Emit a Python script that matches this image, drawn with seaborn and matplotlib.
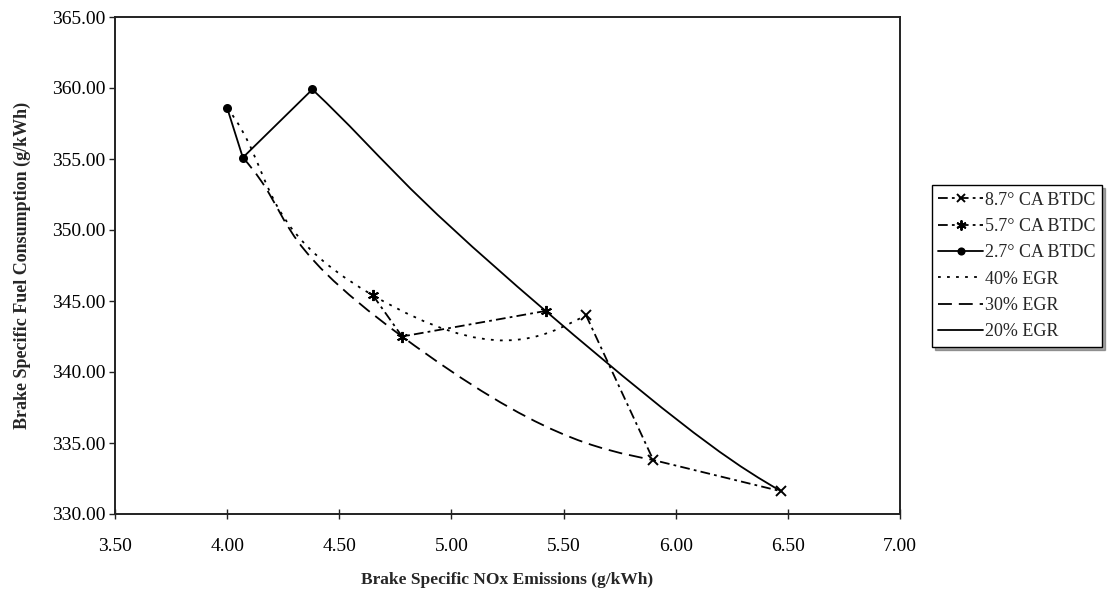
import numpy as np
import pandas as pd
import seaborn as sns
import matplotlib
matplotlib.use("Agg")
import matplotlib.pyplot as plt
from matplotlib.path import Path
from matplotlib.patches import PathPatch
from matplotlib.lines import Line2D
from matplotlib.ticker import FormatStrFormatter, MultipleLocator

# ---- data ----
# injection timing series (points at 40%, 30%, 20% EGR)
t87_x = [5.60, 5.90, 6.47]
t87_y = [344.0, 333.8, 331.6]
t57_x = [4.65, 4.78, 5.42]
t57_y = [345.4, 342.5, 344.3]
t27_x = [4.00, 4.07, 4.38]
t27_y = [358.6, 355.1, 359.9]
# EGR series (points at 2.7, 5.7, 8.7 deg CA BTDC)
egr40_x = [4.00, 4.65, 5.60]
egr40_y = [358.6, 345.4, 344.0]
egr30_x = [4.07, 4.78, 5.90]
egr30_y = [355.1, 342.5, 333.8]
egr20_x = [4.38, 5.42, 6.47]
egr20_y = [359.9, 344.3, 331.6]

timing_labels = ["8.7° CA BTDC", "5.7° CA BTDC", "2.7° CA BTDC"]
egr_labels = ["40% EGR", "30% EGR", "20% EGR"]

sns.set_theme(style="white")
plt.rcParams["font.family"] = ["Liberation Serif", "DejaVu Serif"]
plt.rcParams["lines.scale_dashes"] = False

fig = plt.figure(figsize=(11.11, 5.97), dpi=100)
ax = fig.add_axes([115/1111, 1-514/597, (900-115)/1111, (514-17)/597])

LW = 1.3
dashdot = (0, (7, 3, 2, 3))
dotted = (0, (2.0, 4.5))
dashed = (0, (10, 5))

# timing series: straight segments with markers
tdf = pd.DataFrame({
    "x": t87_x + t57_x + t27_x,
    "y": t87_y + t57_y + t27_y,
    "s": [timing_labels[0]]*3 + [timing_labels[1]]*3 + [timing_labels[2]]*3,
})
styles = {
    timing_labels[0]: dict(ls=dashdot, marker="x", ms=7, mew=1.4, mfc="none"),
    timing_labels[1]: dict(ls=dashdot, marker=(6, 2, 0), ms=8, mew=1.4, mfc="none"),
    timing_labels[2]: dict(ls="-", marker="o", ms=6.5, mew=0, mfc="black"),
}
handles = []
for lab in timing_labels:
    st = styles[lab]
    sub = tdf[tdf["s"] == lab]
    sns.lineplot(data=sub, x="x", y="y", sort=False, ax=ax, color="black",
                 lw=LW, linestyle=st["ls"], marker=st["marker"], markersize=st["ms"],
                 markeredgewidth=st["mew"], markerfacecolor=st["mfc"],
                 markeredgecolor="black", legend=False, zorder=3)
    handles.append(Line2D([], [], color="black", lw=LW, linestyle=st["ls"],
                          marker=st["marker"], markersize=st["ms"] * 0.9,
                          markeredgewidth=st["mew"], markerfacecolor=st["mfc"],
                          markeredgecolor="black"))

# EGR series: smoothed curves (cubic Bezier through the data points)
def smooth_path(xs, ys, s=1/3):
    P = np.column_stack([xs, ys]).astype(float)
    n = len(P)
    tang = [None]*n
    for i in range(1, n-1):
        tang[i] = P[i+1] - P[i-1]
    verts = [P[0]]
    codes = [Path.MOVETO]
    for i in range(n-1):
        if i == 0:
            c1 = P[0] + (P[1] - P[0]) / 3
        else:
            c1 = P[i] + s * tang[i]
        if i + 1 == n - 1:
            c2 = P[i+1] + 0.5 * (c1 - P[i+1]) if i > 0 else P[i+1] - (P[i+1]-P[i]) / 3
        else:
            c2 = P[i+1] - s * tang[i+1]
        verts += [c1, c2, P[i+1]]
        codes += [Path.CURVE4]*3
    return Path(np.array(verts), codes)

for xs, ys, ls, lab in [(egr40_x, egr40_y, dotted, egr_labels[0]),
                        (egr30_x, egr30_y, dashed, egr_labels[1]),
                        (egr20_x, egr20_y, "-", egr_labels[2])]:
    patch = PathPatch(smooth_path(xs, ys), facecolor="none", edgecolor="black",
                      lw=LW, linestyle=ls, zorder=2)
    ax.add_patch(patch)
    handles.append(Line2D([], [], color="black", lw=LW, linestyle=ls))

ax.set_xlim(3.5, 7.0)
ax.set_ylim(330, 365)
ax.xaxis.set_major_locator(MultipleLocator(0.5))
ax.yaxis.set_major_locator(MultipleLocator(5))
ax.xaxis.set_major_formatter(FormatStrFormatter("%.2f"))
ax.yaxis.set_major_formatter(FormatStrFormatter("%.2f"))
for sp in ax.spines.values():
    sp.set_color("#222222")
    sp.set_linewidth(1.4)
ax.tick_params(axis="x", direction="inout", length=7, width=1, colors="#222222",
               labelsize=14, labelcolor="black", pad=14, bottom=True)
ax.tick_params(axis="y", direction="out", length=4, width=1, colors="#222222",
               labelsize=14, labelcolor="black", pad=3, left=True)
ax.set_xlabel("Brake Specific NOx Emissions (g/kWh)", fontsize=12.5, fontweight="bold", labelpad=12)
ax.set_ylabel("Brake Specific Fuel Consumption (g/kWh)", fontsize=13, fontweight="bold", labelpad=15)

leg = ax.legend(handles, timing_labels + egr_labels, loc="center left",
                bbox_to_anchor=(932/1111, 1-266/597), bbox_transform=fig.transFigure,
                fontsize=13, frameon=True, fancybox=False, shadow=True,
                edgecolor="black", handlelength=2.5, handletextpad=0.1,
                labelspacing=0.52, borderpad=0.35, borderaxespad=0)
leg.get_frame().set_linewidth(1.0)

fig.savefig("out.png", dpi=100)
